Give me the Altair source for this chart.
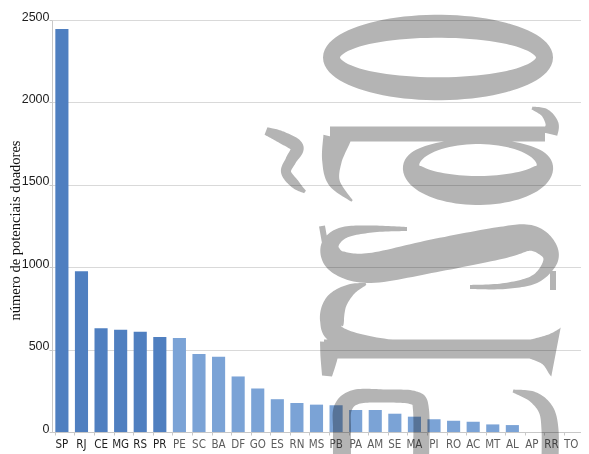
import altair as alt
import numpy as np
import pandas as pd

# ---------------- data ----------------
estados = ["SP", "RJ", "CE", "MG", "RS", "PR", "PE", "SC", "BA", "DF", "GO", "ES", "RN", "MS",
           "PB", "PA", "AM", "SE", "MA", "PI", "RO", "AC", "MT", "AL", "AP", "RR", "TO"]
doadores = [2445, 975, 630, 620, 608, 576, 571, 474, 457, 337, 264, 199, 176, 166,
            162, 133, 133, 111, 93, 78, 68, 62, 46, 42, 0, 0, 0]
y_ticks = [0, 500, 1000, 1500, 2000, 2500]
titulo_y = "número de potenciais doadores"

df = pd.DataFrame({"estado": estados, "doadores": doadores})

DARK = "#4f7fc0"
LIGHT = "#7ba3d6"
GRAY = "#b4b4b4"

PLOT_W, PLOT_H = 529, 412
PAD_L, PAD_T = 44, 12
MARGIN = 8

# ------------- watermark ("ersão", rotated, gray) as one custom symbol -------------
CX, CY, R = 440.0, 235.0, 235.0


def spline(pts, n=14):
    P = np.array(pts, float)
    P = np.vstack([P[0], P, P[-1]])
    out = []
    for i in range(1, len(P) - 2):
        p0, p1, p2, p3 = P[i - 1], P[i], P[i + 1], P[i + 2]
        for t in np.linspace(0, 1, n, endpoint=False):
            out.append(0.5 * (2 * p1 + (-p0 + p2) * t + (2 * p0 - 5 * p1 + 4 * p2 - p3) * t * t
                              + (-p0 + 3 * p1 - 3 * p2 + p3) * t ** 3))
    out.append(P[-2])
    return np.array(out)


def ring(cx, cy, a, b, wfun, n=90):
    t = np.linspace(0, 2 * np.pi, n, endpoint=False)
    return np.stack([cx + a * np.cos(t), cy + b * np.sin(t), wfun(t)], 1)


def area(p):
    x, y = p[:, 0], p[:, 1]
    return 0.5 * np.sum(x * np.roll(y, -1) - np.roll(x, -1) * y)


def outline(s, closed=False):
    xy, w = s[:, :2], s[:, 2]
    if closed:
        d = np.roll(xy, -1, 0) - np.roll(xy, 1, 0)
    else:
        d = np.gradient(xy, axis=0)
    d = d / np.linalg.norm(d, axis=1)[:, None]
    nrm = np.stack([-d[:, 1], d[:, 0]], 1)
    left = xy + nrm * w[:, None] / 2
    right = xy - nrm * w[:, None] / 2
    if closed:
        a, b = left, right[::-1]
        big = a if abs(area(a)) > abs(area(b)) else b
        if area(big) > 0:
            a, b = a[::-1], b[::-1]
        return [a, b]
    poly = np.vstack([left, right[::-1]])
    if area(poly) > 0:
        poly = poly[::-1]
    return [poly]


def to_d(polys):
    parts = []
    for p in polys:
        q = (p - [CX, CY]) / R
        parts.append("M" + "L".join(f"{x:.4f},{y:.4f}" for x, y in q) + "Z")
    return "".join(parts)


open_strokes = [
    # tilde
    [(266, 131, 8), (281, 137, 12), (297, 147, 13), (291, 160, 11), (286, 172, 10), (295, 184, 9), (305, 192, 3)],
    # a: stem, tail hook, top arch
    [(330, 134, 15), (440, 134, 15), (545, 134, 15)],
    [(532, 108, 3), (545, 113, 9), (552, 124, 13), (550, 134, 15)],
    [(337, 138, 28), (332, 160, 20), (334, 182, 12), (352, 201, 2)],
    # s
    [(407, 229, 4), (372, 229, 7), (343, 233, 12), (330, 246, 18), (338, 262, 24), (370, 268, 30),
     (433, 256, 33), (500, 243, 32), (530, 238, 26), (547, 248, 20), (550, 262, 14), (535, 279, 9),
     (505, 286, 6), (470, 287, 4)],
    [(322, 226, 6), (325, 243, 6)],
    [(553, 271, 6), (553, 290, 6)],
    # r: stem, foot serif, top serif, arm
    [(324, 349, 19), (440, 349, 19), (534, 349, 19)],
    [(530, 349, 19), (545, 350, 30), (556, 352, 50)],
    [(330, 342, 20), (329, 358, 17), (327, 376, 10)],
    [(366, 284, 2), (350, 290, 12), (336, 303, 22), (332, 320, 24), (338, 335, 18), (380, 342, 8),
     (440, 344, 2)],
    # e: loop and tail
    [(421, 462, 16), (421, 410, 16), (414, 398, 14), (385, 396, 13), (356, 397, 15), (343, 408, 18),
     (342, 430, 18), (342, 462, 18)],
    [(513, 391, 3), (533, 397, 11), (546, 410, 15), (550, 430, 17), (550, 462, 17)],
]

polys = []
for st in open_strokes:
    polys += outline(spline(st))
# o
polys += outline(ring(438, 57.5, 106.5, 31.25, lambda t: 17 * np.cos(t) ** 2 + 23 * np.sin(t) ** 2), closed=True)
# bowl of a
polys += outline(ring(478, 166, 66.5, 24.5, lambda t: 17 + 12 * np.sin(t)), closed=True)

WM_PATH = to_d(polys)

# ---------------- chart ----------------
dark_labels = "indexof(['SP','RJ','CE','MG','RS','PR'], datum.value) >= 0"

bars = alt.Chart(df).mark_bar().encode(
    x=alt.X("estado:N", sort=estados, title=None,
            scale=alt.Scale(paddingInner=0.33, paddingOuter=0.17),
            axis=alt.Axis(labelAngle=0,
                          labelFont="'DejaVu Sans Condensed', 'Liberation Sans', sans-serif",
                          labelFontSize=11.5,
                          labelColor=alt.condition(dark_labels, alt.value("#1e1e1e"), alt.value("#5c5c5c")),
                          domainColor="#c8c8c8", tickColor="#c8c8c8", tickSize=3,
                          bandPosition=0, labelPadding=3, grid=False)),
    y=alt.Y("doadores:Q", title=titulo_y,
            scale=alt.Scale(domain=[0, 2500], nice=False),
            axis=alt.Axis(values=y_ticks, format="d", labelFont="Liberation Sans",
                          labelFontSize=12.5, labelColor="#1e1e1e", labelPadding=0,
                          labelBaseline="middle", labelOffset=-4, tickSize=3,
                          tickColor="#c8c8c8", domainColor="#c8c8c8", gridColor="#d9d9d9",
                          gridWidth=1.2, titleFont="Liberation Serif", titleFontSize=14.5,
                          titleFontWeight="normal", titleColor="#111111",
                          titleX=-PAD_L, titleY=210, titleAngle=-90,
                          titleAlign="center", titleBaseline="top")),
    color=alt.condition(alt.FieldOneOfPredicate(field="estado", oneOf=estados[:6]),
                        alt.value(DARK), alt.value(LIGHT)),
)

watermark = alt.Chart(pd.DataFrame({"marca": ["ersão"]})).mark_point(
    shape=WM_PATH, filled=True, opacity=1, strokeWidth=0, blend="multiply"
).encode(
    x=alt.value(CX - MARGIN - PAD_L),
    y=alt.value(CY - MARGIN - PAD_T),
    size=alt.value((2 * R) ** 2),
    color=alt.value(GRAY),
)

chart = alt.layer(bars, watermark).properties(
    width=PLOT_W, height=PLOT_H,
    autosize=alt.AutoSizeParams(type="none"),
    padding={"left": PAD_L, "top": PAD_T, "right": 0, "bottom": 22},
).configure_view(stroke=None)

chart.save("out.html", embed_options={"renderer": "svg", "actions": False})
